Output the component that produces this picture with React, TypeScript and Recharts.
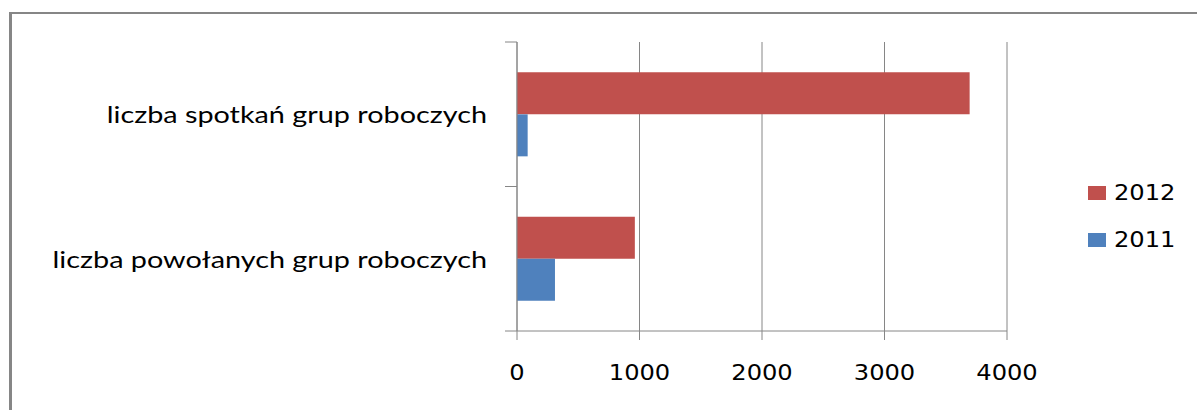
import React from "react";
import { BarChart, Bar, XAxis, YAxis, CartesianGrid } from "recharts";

const categories = ["liczba spotkań grup roboczych", "liczba powołanych grup roboczych"];
const values2012 = [3695, 962];
const values2011 = [87, 310];
const xTicks = [0, 1000, 2000, 3000, 4000];

const series = [
  { key: "y2012", name: "2012", color: "#C0504D", values: values2012 },
  { key: "y2011", name: "2011", color: "#4F81BD", values: values2011 },
];

const data = categories.map((name, i) => ({
  name,
  y2012: values2012[i],
  y2011: values2011[i],
}));

const W = 1197;
const H = 410;
const AXIS_X = 517;
const TOP = 42;
const PLOT_H = 289;
const GRAY = "#868686";
const STRETCH = 1.15;
const LABEL_STRETCH = 1.2;

function CategoryTick(props: any) {
  const { y, payload, index } = props;
  const band = PLOT_H / categories.length;
  return (
    <g>
      <line x1={AXIS_X - 12} x2={AXIS_X} y1={y - band / 2} y2={y - band / 2} stroke={GRAY} />
      {index === categories.length - 1 && (
        <line x1={AXIS_X - 12} x2={AXIS_X} y1={y + band / 2} y2={y + band / 2} stroke={GRAY} />
      )}
      <text
        transform={`translate(${AXIS_X - 30},${y + 9}) scale(${LABEL_STRETCH},1)`}
        textAnchor="end"
        fontFamily="Lato, sans-serif"
        fontSize={24}
        fill="#000"
      >
        {payload.value}
      </text>
    </g>
  );
}

function ValueTick(props: any) {
  const { x, y, payload } = props;
  return (
    <text
      transform={`translate(${x},${y}) scale(${STRETCH},1)`}
      textAnchor="middle"
      dy="0.73em"
      fontFamily="'DejaVu Sans', sans-serif"
      fontSize={21}
      fill="#000"
    >
      {payload.value}
    </text>
  );
}

export default function App() {
  return (
    <div style={{ position: "absolute", left: 0, top: 0, width: W, height: H, background: "#fff", overflow: "hidden" }}>
      <div
        style={{
          position: "absolute",
          left: 9,
          top: 12,
          right: -10,
          bottom: -10,
          borderLeft: `3px solid ${GRAY}`,
          borderTop: `2px solid ${GRAY}`,
        }}
      />
      <div style={{ position: "absolute", left: 0, top: 0 }}>
        <BarChart
          width={W}
          height={H}
          data={data}
          layout="vertical"
          margin={{ top: TOP, right: 190, bottom: 39, left: 0 }}
          barCategoryGap="21%"
          barGap={0}
        >
          <CartesianGrid horizontal={false} stroke={GRAY} strokeWidth={1} />
          <XAxis
            type="number"
            domain={[0, 4000]}
            ticks={xTicks}
            interval={0}
            stroke={GRAY}
            tickSize={9}
            tickMargin={25}
            height={40}
            tick={<ValueTick />}
          />
          <YAxis
            type="category"
            dataKey="name"
            width={AXIS_X}
            stroke={GRAY}
            tickLine={false}
            tick={<CategoryTick />}
          />
          {series.map((s) => (
            <Bar key={s.key} dataKey={s.key} name={s.name} fill={s.color} isAnimationActive={false} />
          ))}
        </BarChart>
      </div>
      <div style={{ position: "absolute", left: 1088, top: 169 }}>
        {series.map((s) => (
          <div key={s.key} style={{ display: "flex", alignItems: "center", height: 47 }}>
            <div style={{ width: 18, height: 14, background: s.color, marginRight: 8 }} />
            <span
              style={{
                fontFamily: "'DejaVu Sans', sans-serif",
                fontSize: 21,
                color: "#000",
                display: "inline-block",
                transform: `scaleX(${STRETCH})`,
                transformOrigin: "left center",
              }}
            >
              {s.name}
            </span>
          </div>
        ))}
      </div>
    </div>
  );
}
